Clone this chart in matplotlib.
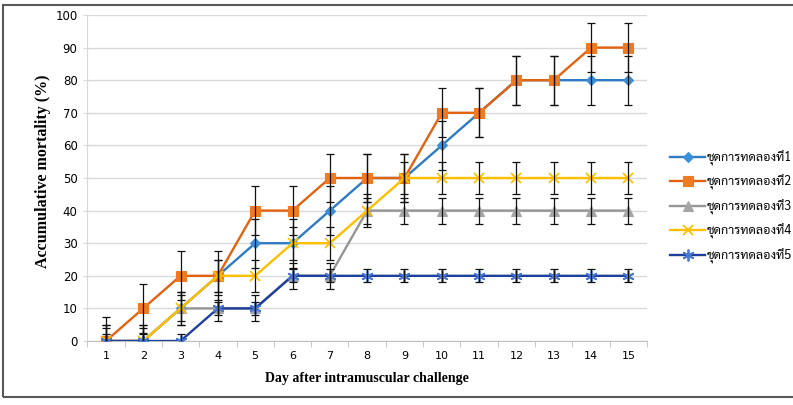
import matplotlib
matplotlib.use("Agg")
import matplotlib.pyplot as plt
from matplotlib import font_manager
from matplotlib.patches import Rectangle
import numpy as np

# datos
dias = list(range(1, 16))
nombres = ["ชุดการทดลองที่1", "ชุดการทดลองที่2", "ชุดการทดลองที่3",
           "ชุดการทดลองที่4", "ชุดการทดลองที่5"]
serie1 = [0, 0, 10, 20, 30, 30, 40, 50, 50, 60, 70, 80, 80, 80, 80]
serie2 = [0, 10, 20, 20, 40, 40, 50, 50, 50, 70, 70, 80, 80, 90, 90]
serie3 = [0, 0, 10, 10, 10, 20, 20, 40, 40, 40, 40, 40, 40, 40, 40]
serie4 = [0, 0, 10, 20, 20, 30, 30, 40, 50, 50, 50, 50, 50, 50, 50]
serie5 = [0, 0, 0, 10, 10, 20, 20, 20, 20, 20, 20, 20, 20, 20, 20]
err1 = [5, 5, 5, 5, 7.5, 7.5, 7.5, 7.5, 7.5, 7.5, 7.5, 7.5, 7.5, 7.5, 7.5]
err2 = [7.5] * 15
err3 = [4] * 15
err4 = [5] * 15
err5 = [2] * 15
y_ticks = list(range(0, 101, 10))

# fuente tailandesa con bucles (parecida a Tahoma)
disponibles = {f.name for f in font_manager.fontManager.ttflist}
fuente_thai = None
for nombre in ["Sarabun", "IBM Plex Sans Thai Looped", "Noto Sans Thai Looped",
               "Noto Sans Thai", "IBM Plex Sans Thai"]:
    if nombre in disponibles:
        fuente_thai = nombre
        break

series = [serie1, serie2, serie3, serie4, serie5]
errores = [err1, err2, err3, err4, err5]
colores_linea = ["#2E7BC4", "#E2620F", "#959595", "#FFBF00", "#1F3F9E"]
colores_marca = ["#3A8FD9", "#F07A22", "#A5A5A5", "#FFC000", "#4A78D0"]
marcas = ["D", "s", "^", "x", (6, 2, 0)]
tam_marca = [5, 6.5, 7, 7.5, 8.5]

fig = plt.figure(figsize=(7.93, 4.05), dpi=100)
ax = fig.add_axes([0.110, 0.158, 0.706, 0.805])

for i in range(5):
    ax.plot(dias, series[i], color=colores_linea[i], lw=1.7, marker=marcas[i],
            ms=tam_marca[i], mfc=colores_marca[i], mec=colores_marca[i],
            mew=1.3 if i >= 3 else 0.8, label=nombres[i], zorder=3 + i * 0.1)

for i in range(5):
    ax.errorbar(dias, series[i], yerr=errores[i], fmt="none", ecolor="#111111",
                elinewidth=0.9, capsize=3, capthick=0.9, zorder=4)

ax.set_xlim(0.5, 15.5)
ax.set_ylim(0, 100)
ax.set_yticks(y_ticks)
ax.set_xticks(dias)
ax.set_xticks(np.arange(0.5, 15.6, 1), minor=True)
ax.tick_params(axis="x", which="major", length=0, labelsize=8, pad=7)
ax.tick_params(axis="x", which="minor", length=4, color="#BFBFBF")
ax.tick_params(axis="y", length=3, color="#D9D9D9", labelsize=8.5, pad=4)
ax.grid(axis="y", color="#D9D9D9", lw=1)
ax.set_axisbelow(True)
for lado in ["top", "right"]:
    ax.spines[lado].set_visible(False)
ax.spines["left"].set_color("#D9D9D9")
ax.spines["bottom"].set_color("#BFBFBF")

ax.set_xlabel("Day after intramuscular challenge", family="Liberation Serif",
              fontweight="bold", fontsize=10, labelpad=8)
ax.set_ylabel("Accumulative mortality (%)", family="Liberation Serif",
              fontweight="bold", fontsize=11.5, labelpad=9)
ax.yaxis.set_label_coords(-0.065, 0.52)

familias = [fuente_thai, "DejaVu Sans"] if fuente_thai else ["DejaVu Sans"]
ax.legend(loc="center left", bbox_to_anchor=(0.845, 0.489),
          bbox_transform=fig.transFigure, frameon=False, borderpad=0,
          borderaxespad=0, prop={"family": familias, "size": 9},
          handlelength=2.8, labelspacing=0.74, handletextpad=0.15)

# marco exterior
fig.patches.append(Rectangle((0.004, 0.02), 1.2, 0.967, transform=fig.transFigure,
                             fill=False, edgecolor="#595959", lw=1.5))

plt.savefig("out.png", dpi=100)
